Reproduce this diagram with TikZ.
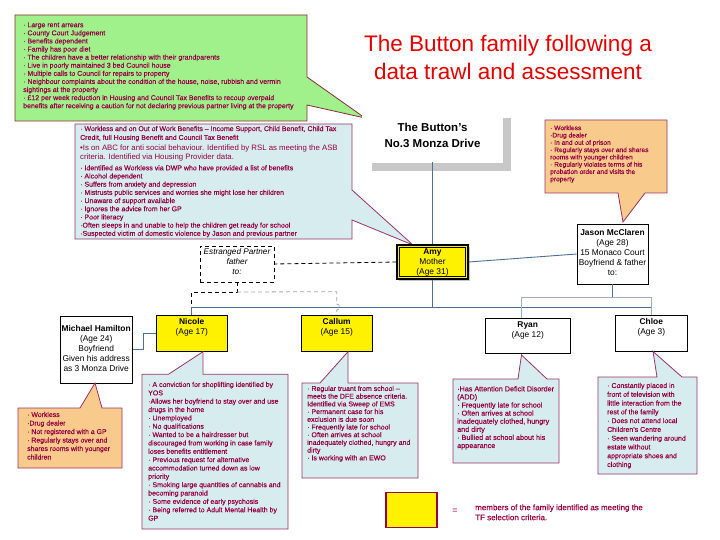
\documentclass[tikz,border=0pt]{standalone}
\usepackage{fontspec}
\setmainfont{Liberation Sans}
\newfontfamily\callfont[FakeBold=0.35]{Liberation Sans}
\definecolor{cgreen}{HTML}{A0F08C}
\definecolor{cgreenb}{HTML}{8B2A3A}
\definecolor{cblue}{HTML}{D6ECEF}
\definecolor{corange}{HTML}{F8CB8C}
\definecolor{cmag}{HTML}{993366}
\definecolor{ctxt}{HTML}{960042}
\definecolor{clink}{HTML}{4F6F8F}
\definecolor{clinkl}{HTML}{9AAFC4}
\definecolor{ctitle}{HTML}{E00000}
\definecolor{cshadow}{HTML}{C8C8C8}
\begin{document}
\begin{tikzpicture}[x=1pt,y=-1pt,
  callb/.style={draw=cmag, fill=cblue, line width=0.8pt, line join=miter},
  callo/.style={draw=cmag, fill=corange, line width=0.8pt, line join=miter},
  ctext/.style={anchor=north west, align=left, inner sep=0pt, text=ctxt, font=\callfont\fontsize{7}{8.1}\selectfont},
  pbox/.style={draw=black, line width=0.6pt, fill=white, inner sep=0pt},
  ptext/.style={align=center, inner sep=0pt, font=\fontsize{8.4}{10}\selectfont},
  link/.style={draw=clink, line width=0.9pt},
  linkl/.style={draw=clinkl, line width=0.9pt},
  dlink/.style={draw=black, line width=0.8pt, dash pattern=on 4pt off 3pt},
  glink/.style={draw=gray!70, line width=0.8pt, dash pattern=on 4pt off 3pt},
]
\useasboundingbox (0,0) rectangle (720,540);
\fill[white] (0,0) rectangle (720,540);

% title
\node[anchor=base, inner sep=0pt, text=ctitle, font=\fontsize{22.5}{28}\selectfont] (title1) at (508,52) {The Button family following a};
\node[anchor=base, inner sep=0pt, text=ctitle, font=\fontsize{22.5}{28}\selectfont] (title2) at (508,80) {data trawl and assessment};

% green callout
\draw[fill=cgreen, draw=cgreenb, line width=0.8pt, line join=miter]
  (15,15) -- (307,15) -- (307,77) -- (365,118) -- (307,105) -- (307,121) -- (15,121) -- cycle;
\node[ctext] (gtext) at (23,22.2) {· Large rent arrears\\
· County Court Judgement\\
· Benefits dependent\\
· Family has poor diet\\
· The children have a better relationship with their grandparents\\
· Live in poorly maintained 3 bed Council house\\
· Multiple calls to Council for repairs to property\\
· Neighbour complaints about the condition of the house, noise, rubbish and vermin\\
sightings at the property\\
· £12 per week reduction in Housing and Council Tax Benefits to recoup overpaid\\
benefits after receiving a caution for not declaring previous partner living at the property};

% blue main callout
\draw[callb] (75,124) -- (352,124) -- (352,190) -- (413,245) -- (352,220) -- (352,239) -- (75,239) -- cycle;
\node[ctext, font=\callfont\fontsize{7}{8.8}\selectfont] (btextA) at (80,125.8) {· Workless and on Out of Work Benefits – Income Support, Child Benefit, Child Tax\\
Credit, full Housing Benefit and Council Tax Benefit};
\node[ctext, font=\fontsize{7.8}{8.8}\selectfont] (btextB) at (80,144.4) {•Is on ABC for anti social behaviour. Identified by RSL as meeting the ASB\\
criteria. Identified via Housing Provider data.};
\node[ctext, font=\callfont\fontsize{7}{8.19}\selectfont] (btextC) at (80,165) {· Identified as Workless via DWP who have provided a list of benefits\\
· Alcohol dependent\\
· Suffers from anxiety and depression\\
· Mistrusts public services and worries she might lose her children\\
· Unaware of support available\\
· Ignores the advice from her GP\\
· Poor literacy\\
·Often sleeps in and unable to help the children get ready for school\\
·Suspected victim of domestic violence by Jason and previous partner};

% orange right callout
\draw[callo] (545,120) -- (667,120) -- (667,193) -- (645,193) -- (623,222) -- (618,193) -- (545,193) -- cycle;
\node[ctext, font=\callfont\fontsize{6.6}{7.3}\selectfont] (otext) at (550,125.2) {· Workless\\
·Drug dealer\\
· In and out of prison\\
· Regularly stays over and shares\\
rooms with younger children\\
· Regularly violates terms of his\\
probation order and visits the\\
property};

% The Button's box
\fill[cshadow] (372,118) rectangle (511,171);
\node[draw=black, line width=0.7pt, double=white, double distance=1.4pt, fill=white, minimum width=139pt, minimum height=53pt, inner sep=0pt] (button) at (432.5,135.5) {};
\node[align=center, inner sep=0pt, font=\bfseries\fontsize{11.5}{16}\selectfont] (buttontext) at (432.5,135) {The Button’s\\No.3 Monza Drive};

% people
\node[pbox, draw=black, dash pattern=on 4pt off 3pt, minimum width=74pt, minimum height=36pt] (estr) at (237,264) {};
\node[ptext, font=\itshape\fontsize{8.2}{10}\selectfont] (estrtext) at (237,262) {Estranged Partner\\father\\to:};

\fill[cshadow] (399,247) rectangle (470,281);
\node[pbox, fill=yellow, line width=1.1pt, minimum width=71pt, minimum height=34pt] (amy) at (432.5,262) {};
\draw[line width=0.5pt] (399.6,247.6) rectangle (465.4,276.4);
\node[ptext, font=\fontsize{8.4}{10.3}\selectfont] (amytext) at (432.5,262.5) {\textbf{Amy}\\Mother\\(Age 31)};

\node[pbox, minimum width=71pt, minimum height=60pt] (jason) at (612.5,254) {};
\node[ptext] (jasontext) at (612.5,252) {\textbf{Jason McClaren}\\(Age 28)\\15 Monaco Court\\Boyfriend \& father\\to:};

\node[pbox, minimum width=72.4pt, minimum height=67pt] (michael) at (96.2,349.5) {};
\node[ptext] (michaeltext) at (96.2,348.3) {\textbf{Michael Hamilton}\\(Age 24)\\Boyfriend\\Given his address\\as 3 Monza Drive};

\node[pbox, fill=yellow, minimum width=71.5pt, minimum height=35.7pt] (nicole) at (191.75,333) {};
\node[ptext] (nicoletext) at (191.75,327.7) {\textbf{Nicole}\\(Age 17)};
\node[pbox, fill=yellow, minimum width=71.4pt, minimum height=35.7pt] (callum) at (336.7,333) {};
\node[ptext] (callumtext) at (336.7,327.7) {\textbf{Callum}\\(Age 15)};
\node[pbox, minimum width=84.5pt, minimum height=35pt] (ryan) at (527.75,335.8) {};
\node[ptext] (ryantext) at (527.75,330.7) {\textbf{Ryan}\\(Age 12)};
\node[pbox, minimum width=72.6pt, minimum height=35.7pt] (chloe) at (651.3,333) {};
\node[ptext] (chloetext) at (651.3,327.7) {\textbf{Chloe}\\(Age 3)};

% connectors
\coordinate (mL) at (191.75,307);
\coordinate (mR) at (651.3,307);
\coordinate (rc) at (612.5,297.3);
\coordinate (ryanc) at (521.5,297.3);
\coordinate (chloec) at (651.3,297.3);
\draw[link] (button.south) -- (amy.north);
\draw[link] (amy.south) -- (amy.south |- mL);
\draw[link] (mL) -- (mR);
\draw[link] (nicole.north) -- (mL);
\draw[link] (amy.east) -- (jason.west);
\draw[dlink] (amy.west) -- (estr.east);
\draw[dlink] (estr.south) -- ++(0,9.7) -| (mL);
\draw[glink] (estr.south) ++(0,9.7) -- (336.7,291.7) -- (336.7,304) arc[start angle=-90, end angle=90, radius=3] -- (callum.north);
\draw[link] (jason.south) -- (rc);
\draw[linkl] (ryanc) -- (chloec);
\draw[linkl] (ryanc) -- (ryanc |- ryan.north);
\draw[linkl] (chloec) -- (chloe.north);
\draw[link] (michael.east) -- ++(10.8,0) |- (nicole.west);

% bottom callouts
\draw[callo] (18,408) -- (80,408) -- (95,383) -- (102,408) -- (122,408) -- (122,468) -- (18,468) -- cycle;
\node[ctext, font=\callfont\fontsize{6.9}{8.5}\selectfont] (mtext) at (27,411.8) {· Workless\\
·Drug dealer\\
· Not registered with a GP\\
· Regularly stays over and\\
shares rooms with younger\\
children};

\draw[callb] (142,374.3) -- (168.4,374.3) -- (203,351.7) -- (203,374.3) -- (288,374.3) -- (288,529) -- (142,529) -- cycle;
\node[ctext, font=\callfont\fontsize{7}{8.35}\selectfont] (ntext) at (148,381.7) {· A conviction for shoplifting identified by\\
YOS\\
·Allows her boyfriend to stay over and use\\
drugs in the home\\
· Unemployed\\
· No qualifications\\
· Wanted to be a hairdresser but\\
discouraged from working in case family\\
loses benefits entitlement\\
· Previous request for alternative\\
accommodation turned down as low\\
priority\\
· Smoking large quantities of cannabis and\\
becoming paranoid\\
· Some evidence of early psychosis\\
· Being referred to Adult Mental Health by\\
GP};

\draw[callb] (302,383) -- (320,383) -- (348,351.7) -- (348,383) -- (418,383) -- (418,478) -- (302,478) -- cycle;
\node[ctext, font=\callfont\fontsize{7}{7.7}\selectfont] (ctext1) at (307,385.7) {· Regular truant from school –\\
meets the DFE absence criteria.\\
Identified via Sweep of EMS\\
· Permanent case for his\\
exclusion is due soon\\
· Frequently late for school\\
· Often arrives at school\\
inadequately clothed, hungry and\\
dirty\\
· Is working with an EWO};

\draw[callb] (453,379) -- (518,379) -- (521.5,355) -- (547,379) -- (559,379) -- (559,463) -- (453,463) -- cycle;
\node[ctext, font=\callfont\fontsize{7.2}{8.1}\selectfont] (rtext) at (457,385.9) {·Has Attention Deficit Disorder\\
(ADD)\\
· Frequently late for school\\
· Often arrives at school\\
inadequately clothed, hungry\\
and dirty\\
· Bullied at school about his\\
appearance};

\draw[callb] (598,377) -- (657,377) -- (653,351.5) -- (682,377) -- (697,377) -- (697,474) -- (598,474) -- cycle;
\node[ctext, font=\callfont\fontsize{7}{8.78}\selectfont] (chtext) at (607,382.7) {· Constantly placed in\\
front of television with\\
little interaction from the\\
rest of the family\\
· Does not attend local\\
Children’s Centre\\
· Seen wandering around\\
estate without\\
appropriate shoes and\\
clothing};

% legend
\node[draw=ctxt, fill=yellow, line width=1.5pt, minimum width=51pt, minimum height=35pt, inner sep=0pt] (legbox) at (411.5,510) {};
\node[text=ctxt, inner sep=0pt, font=\fontsize{9}{9}\selectfont] (legeq) at (455,511) {=};
\node[ctext, font=\callfont\fontsize{8}{10}\selectfont] (legtext) at (475,504.2) {members of the family identified as meeting the\\TF selection criteria.};
\end{tikzpicture}
\end{document}
